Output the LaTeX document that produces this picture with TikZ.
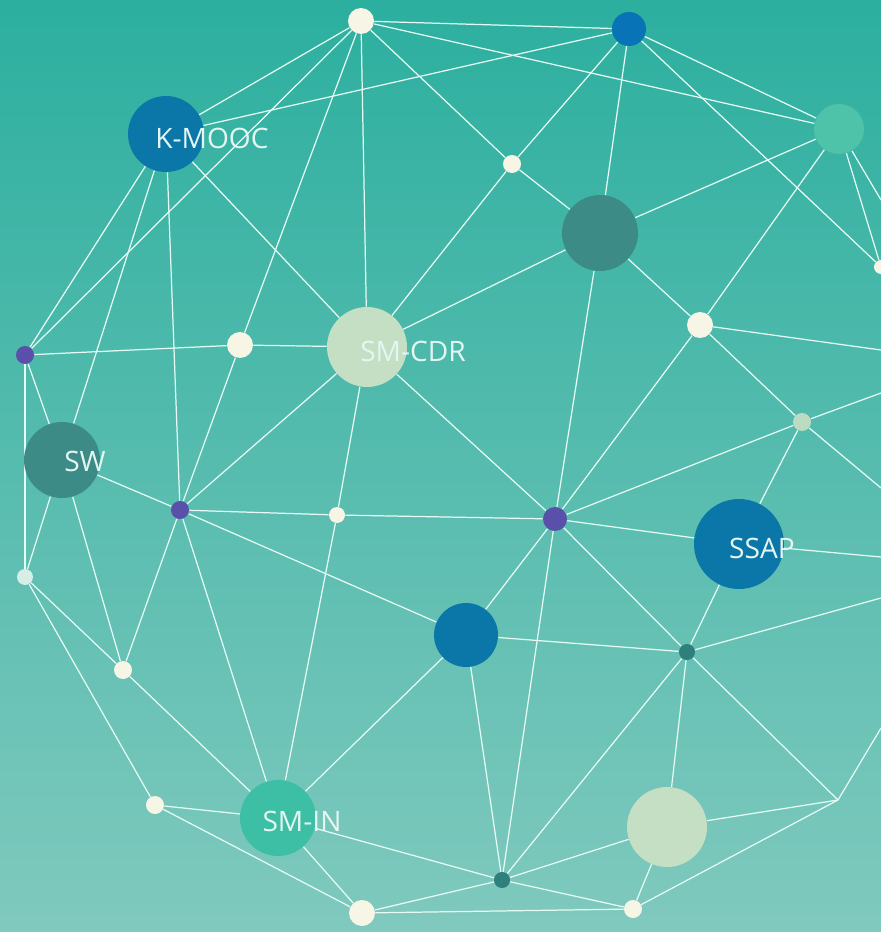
\documentclass[tikz,border=0pt]{standalone}
\usepackage{fontspec}
\setsansfont{Open Sans}
\usepackage{xcolor}
\usepackage{tikz}
\usetikzlibrary{backgrounds}

\definecolor{bgtop}{HTML}{2CAF9F}
\definecolor{bgbot}{HTML}{80C9BE}
\definecolor{wire}{HTML}{E6FBF4}
\definecolor{navy}{HTML}{0B76A8}
\definecolor{sky}{HTML}{0873B6}
\definecolor{moss}{HTML}{3D8B86}
\definecolor{mint}{HTML}{C4DFC4}
\definecolor{jade}{HTML}{3DBFA6}
\definecolor{seafoam}{HTML}{4FC3AA}
\definecolor{violet}{HTML}{5A4FA9}
\definecolor{cream}{HTML}{F7F6E6}
\definecolor{pine}{HTML}{2F7F7C}
\definecolor{sage}{HTML}{BCDCC2}
\definecolor{haze}{HTML}{D6EEE4}
\definecolor{tagtext}{HTML}{E4F6F1}

\begin{document}
\begin{tikzpicture}[x=0.02cm, y=-0.02cm,
    bead/.style={circle, inner sep=0pt, minimum size=#1*0.04cm},
    tag/.style={font=\sffamily\fontsize{16}{18}\selectfont, text=tagtext, inner sep=0pt}]
			\useasboundingbox (0,0) rectangle (881,932);
			\node[bead=13, fill=cream] at (361,21) (tw){};
			\node[bead=17, fill=sky] at (629,29) (tb){};
			\node[bead=38, fill=navy] at (166,134) (kmooc){};
			\node[bead=25, fill=seafoam] at (839,129) (tr){};
			\node[bead=9, fill=cream] at (512,164) (w1){};
			\node[bead=38, fill=moss] at (600,233) (dk){};
			\node[bead=9, fill=violet] at (25,355) (lp){};
			\node[bead=13, fill=cream] at (240,345) (w2){};
			\node[bead=40, fill=mint] at (367,347) (smcdr){};
			\node[bead=13, fill=cream] at (700,325) (w3){};
			\node[bead=38, fill=moss] at (62,460) (sw){};
			\node[bead=9, fill=violet] at (180,510) (p2){};
			\node[bead=8, fill=cream] at (337,515) (w4){};
			\node[bead=12, fill=violet] at (555,519) (p3){};
			\node[bead=9, fill=sage] at (802,422) (g1){};
			\node[bead=45, fill=navy] at (739,544) (ssap){};
			\node[bead=8, fill=haze] at (25,577) (w5){};
			\node[bead=9, fill=cream] at (123,670) (w6){};
			\node[bead=32, fill=navy] at (466,635) (bb){};
			\node[bead=8, fill=pine] at (687,652) (dt1){};
			\node[bead=9, fill=cream] at (155,805) (w7){};
			\node[bead=38, fill=jade] at (278,818) (smin){};
			\node[bead=40, fill=mint] at (667,827) (lg){};
			\node[bead=8, fill=pine] at (502,880) (dt2){};
			\node[bead=13, fill=cream] at (362,913) (w8){};
			\node[bead=9, fill=cream] at (633,909) (w9){};
			\node[bead=7, fill=cream] at (881,267) (e1){};
			\coordinate (bend) at (838,800);
			\coordinate (rim1) at (881,200);
			\coordinate (rim2) at (881,350);
			\coordinate (rim3) at (881,393);
			\coordinate (rim4) at (881,488);
			\coordinate (rim5) at (881,557);
			\coordinate (rim6) at (881,598);
			\coordinate (rim7) at (881,728);
			\node[tag] at (212,138) (kmoocT){K-MOOC};
			\node[tag] at (413,351) (smcdrT){SM-CDR};
			\node[tag] at (85,461) (swT){SW};
			\node[tag] at (762,548) (ssapT){SSAP};
			\node[tag] at (302,821) (sminT){SM-IN};
			\begin{pgfonlayer}{background}
			\fill[top color=bgtop, bottom color=bgbot] (0,0) rectangle (881,932);
			\begin{scope}[draw=wire, line width=0.7pt]
			\draw (tw) -- (tb);
			\draw (tw) -- (kmooc);
			\draw (tw) -- (lp);
			\draw (tw) -- (w2);
			\draw (tw) -- (smcdr);
			\draw (tw) -- (w1);
			\draw (tw) -- (tr);
			\draw (tb) -- (kmooc);
			\draw (tb) -- (w1);
			\draw (tb) -- (dk);
			\draw (tb) -- (tr);
			\draw (tb) -- (e1);
			\draw (kmooc) -- (lp);
			\draw (kmooc) -- (sw);
			\draw (kmooc) -- (p2);
			\draw (kmooc) -- (smcdr);
			\draw (tr) -- (dk);
			\draw (tr) -- (w3);
			\draw (tr) -- (e1);
			\draw (tr) -- (rim1);
			\draw (w1) -- (smcdr);
			\draw (w1) -- (dk);
			\draw (dk) -- (smcdr);
			\draw (dk) -- (w3);
			\draw (dk) -- (p3);
			\draw (lp) -- (w2);
			\draw (lp) -- (sw);
			\draw (lp) -- (w5);
			\draw (w2) -- (smcdr);
			\draw (w2) -- (p2);
			\draw (smcdr) -- (p2);
			\draw (smcdr) -- (w4);
			\draw (smcdr) -- (p3);
			\draw (w3) -- (p3);
			\draw (w3) -- (g1);
			\draw (w3) -- (rim2);
			\draw (sw) -- (p2);
			\draw (sw) -- (w5);
			\draw (sw) -- (w6);
			\draw (p2) -- (w4);
			\draw (p2) -- (bb);
			\draw (p2) -- (w6);
			\draw (p2) -- (smin);
			\draw (w4) -- (smin);
			\draw (w4) -- (p3);
			\draw (p3) -- (g1);
			\draw (p3) -- (ssap);
			\draw (p3) -- (bb);
			\draw (p3) -- (dt2);
			\draw (p3) -- (dt1);
			\draw (g1) -- (ssap);
			\draw (g1) -- (rim3);
			\draw (g1) -- (rim4);
			\draw (ssap) -- (dt1);
			\draw (ssap) -- (rim5);
			\draw (w5) -- (w6);
			\draw (w5) -- (w7);
			\draw (w6) -- (smin);
			\draw (bb) -- (dt1);
			\draw (bb) -- (smin);
			\draw (bb) -- (dt2);
			\draw (dt1) -- (lg);
			\draw (dt1) -- (dt2);
			\draw (dt1) -- (bend);
			\draw (dt1) -- (rim6);
			\draw (w7) -- (smin);
			\draw (w7) -- (w8);
			\draw (smin) -- (w8);
			\draw (smin) -- (dt2);
			\draw (lg) -- (bend);
			\draw (lg) -- (dt2);
			\draw (lg) -- (w9);
			\draw (dt2) -- (w8);
			\draw (dt2) -- (w9);
			\draw (w8) -- (w9);
			\draw (w9) -- (bend);
			\draw (bend) -- (rim7);
			\end{scope}
			\end{pgfonlayer}
		\end{tikzpicture}
\end{document}
